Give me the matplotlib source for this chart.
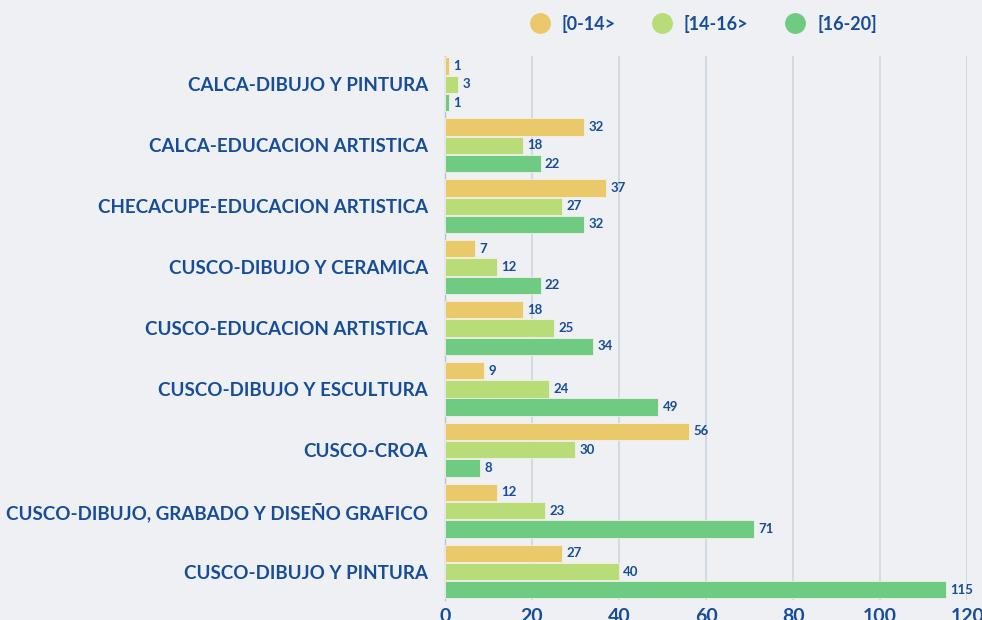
import matplotlib.pyplot as plt
import numpy as np

categories = ['CALCA-DIBUJO Y PINTURA', 'CALCA-EDUCACION ARTISTICA',
              'CHECACUPE-EDUCACION ARTISTICA', 'CUSCO-DIBUJO Y CERAMICA',
              'CUSCO-EDUCACION ARTISTICA', 'CUSCO-DIBUJO Y ESCULTURA',
              'CUSCO-CROA', 'CUSCO-DIBUJO, GRABADO Y DISEÑO GRAFICO',
              'CUSCO-DIBUJO Y PINTURA']
series_names = ['[0-14>', '[14-16>', '[16-20]']
vals_0_14 = [1, 32, 37, 7, 18, 9, 56, 12, 27]
vals_14_16 = [3, 18, 27, 12, 25, 24, 30, 23, 40]
vals_16_20 = [1, 22, 32, 22, 34, 49, 8, 71, 115]
x_ticks = [0, 20, 40, 60, 80, 100, 120]

colors = ['#e9c96a', '#b8dc77', '#6fca82']
blue = '#174d98'
bg = '#eef0f3'

plt.rcParams['font.family'] = ['Lato', 'DejaVu Sans']

fig = plt.figure(figsize=(9.82, 6.2), dpi=100, facecolor=bg)
ax = fig.add_axes([0.453, 0.032, 0.532, 0.878])
ax.set_facecolor(bg)

y = np.arange(len(categories))
h = 0.285
offsets = [-0.3, 0.0, 0.3]
for vals, off, col, name in zip([vals_0_14, vals_14_16, vals_16_20], offsets, colors, series_names):
    bars = ax.barh(y + off, vals, height=h, color=col, edgecolor='#f4f0e6',
                   linewidth=0.6, label=name, zorder=3)
    for b, v in zip(bars, vals):
        ax.text(b.get_width() + 1.0, b.get_y() + b.get_height() / 2, str(v),
                va='center', ha='left', fontsize=9.5, fontweight='bold', color=blue, zorder=4)

ax.set_xlim(0, 120)
ax.set_ylim(len(categories) - 0.53, -0.47)
ax.set_yticks(y)
ax.set_yticklabels(categories, fontsize=13.5, fontweight='bold', color=blue)
ax.set_xticks(x_ticks)
ax.set_xticklabels([str(t) for t in x_ticks], fontsize=14, fontweight='bold', color=blue)
ax.tick_params(axis='y', length=0, pad=12)
ax.tick_params(axis='x', length=0, pad=6)
ax.grid(axis='x', color='#cdd6e2', linewidth=1.2, zorder=0)
for s in ['top', 'right', 'bottom']:
    ax.spines[s].set_visible(False)
ax.spines['left'].set_color('#b8c2d0')
ax.spines['left'].set_linewidth(1)

handles = [plt.Line2D([], [], marker='o', linestyle='none', markersize=14,
                      markerfacecolor=c, markeredgecolor=c) for c in colors]
leg = fig.legend(handles, series_names, loc='center', bbox_to_anchor=(0.712, 0.962),
                 ncol=3, frameon=False, handletextpad=0.2, columnspacing=1.6,
                 prop={'weight': 'bold', 'size': 13})
for t in leg.get_texts():
    t.set_color(blue)

fig.savefig('out.png', dpi=100, facecolor=bg)
